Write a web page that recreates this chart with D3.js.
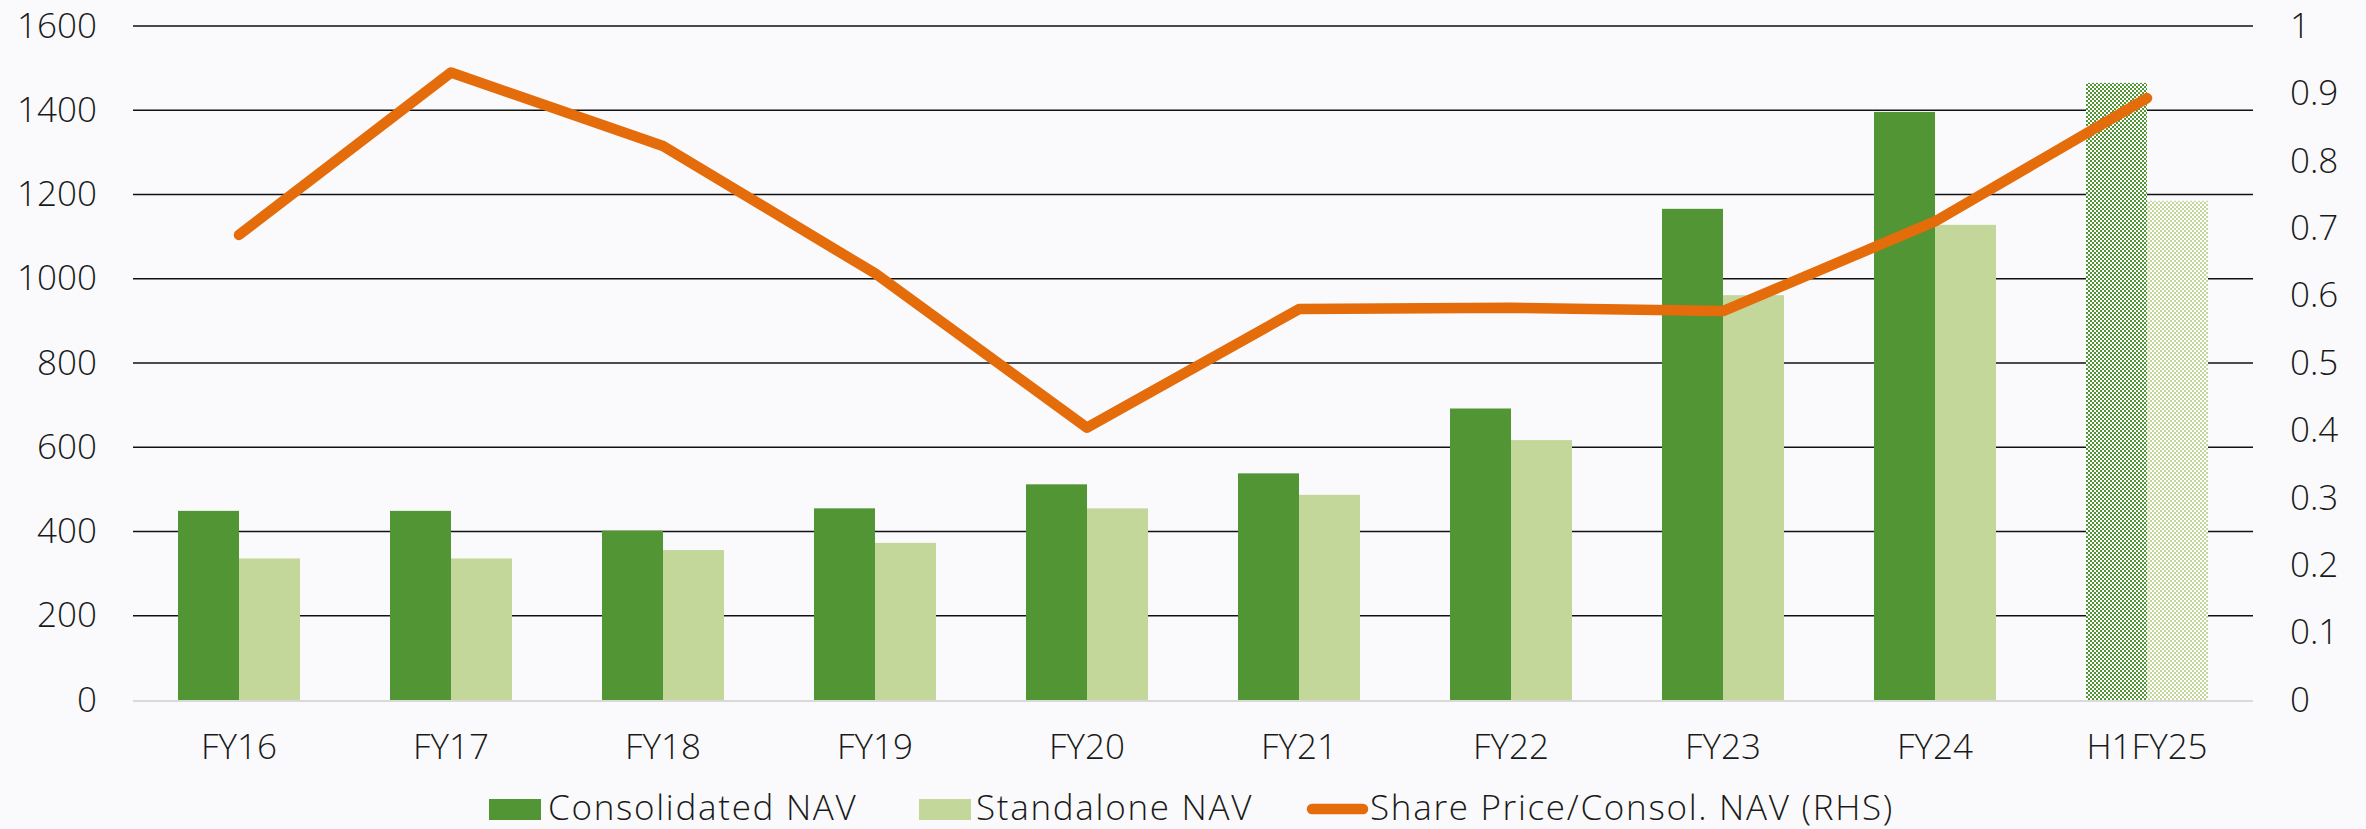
<!DOCTYPE html>
<html>
<head>
<meta charset="utf-8">
<script src="https://cdn.jsdelivr.net/npm/d3@7"></script>
<style>
  html, body { margin: 0; padding: 0; background: #fafafc; }
  svg { display: block; font-family: "Open Sans", Lato, sans-serif; }
  .tick text { fill: #1a1a1a; }
</style>
</head>
<body>
<div id="chart"></div>
<script>
const categories = ["FY16", "FY17", "FY18", "FY19", "FY20", "FY21", "FY22", "FY23", "FY24", "H1FY25"];
const consolidated = [449, 449, 402, 455, 512, 538, 692, 1166, 1396, 1465];
const standalone = [336, 336, 356, 373, 455, 487, 617, 961, 1128, 1185];
const ratio = [0.69, 0.931, 0.822, 0.633, 0.404, 0.58, 0.582, 0.577, 0.71, 0.893];
const leftTicks = [0, 200, 400, 600, 800, 1000, 1200, 1400, 1600];
const rightTicks = [0, 0.1, 0.2, 0.3, 0.4, 0.5, 0.6, 0.7, 0.8, 0.9, 1];
const seriesNames = ["Consolidated NAV", "Standalone NAV", "Share Price/Consol. NAV (RHS)"];

const w = 2366;
const h = 829;
const plotLeft = 133, plotRight = 2253, plotTop = 26, plotBottom = 700;
const darkGreen = "#519534";
const lightGreen = "#c4d79b";
const orange = "#e46c0a";

const svg = d3.select("#chart").append("svg")
  .attr("width", w)
  .attr("height", h);

// checkered fills for the half-year bars
const defs = svg.append("defs");
[["checkDark", darkGreen], ["checkLight", lightGreen]].forEach(([id, col]) => {
  const p = defs.append("pattern")
    .attr("id", id)
    .attr("patternUnits", "userSpaceOnUse")
    .attr("width", 4).attr("height", 4);
  p.append("rect").attr("width", 4).attr("height", 4).attr("fill", "#ffffff");
  p.append("rect").attr("width", 2).attr("height", 2).attr("fill", col);
  p.append("rect").attr("x", 2).attr("y", 2).attr("width", 2).attr("height", 2).attr("fill", col);
});

const pad = 0.4245;
const x = d3.scaleBand()
  .domain(categories)
  .range([plotLeft, plotRight])
  .paddingInner(pad)
  .paddingOuter(pad / 2);
const xs = d3.scaleBand()
  .domain([0, 1])
  .range([0, x.bandwidth()]);
const y = d3.scaleLinear().domain([0, 1600]).range([plotBottom, plotTop]);
const y2 = d3.scaleLinear().domain([0, 1]).range([plotBottom, plotTop]);

// gridlines
svg.append("g")
  .selectAll("line")
  .data(leftTicks.filter(d => d > 0))
  .enter()
  .append("line")
  .attr("x1", plotLeft).attr("x2", plotRight)
  .attr("y1", d => y(d)).attr("y2", d => y(d))
  .attr("stroke", "#111")
  .attr("stroke-width", 1.4);

// bars
const groups = categories.map((c, i) => ({ c: c, vals: [consolidated[i], standalone[i]], last: i === categories.length - 1 }));
svg.append("g")
  .selectAll("g")
  .data(groups)
  .enter()
  .append("g")
  .attr("transform", d => "translate(" + x(d.c) + ",0)")
  .selectAll("rect")
  .data(d => d.vals.map((v, j) => ({ v: v, j: j, last: d.last })))
  .enter()
  .append("rect")
  .attr("x", d => xs(d.j))
  .attr("y", d => y(d.v))
  .attr("width", xs.bandwidth())
  .attr("height", d => y(0) - y(d.v))
  .attr("fill", d => d.last ? (d.j === 0 ? "url(#checkDark)" : "url(#checkLight)") : (d.j === 0 ? darkGreen : lightGreen));

// baseline
svg.append("line")
  .attr("x1", plotLeft).attr("x2", plotRight)
  .attr("y1", plotBottom + 1).attr("y2", plotBottom + 1)
  .attr("stroke", "#d9d9d9")
  .attr("stroke-width", 2);

// ratio line
const line = d3.line()
  .x((d, i) => x(categories[i]) + x.bandwidth() / 2)
  .y(d => y2(d));
svg.append("path")
  .datum(ratio)
  .attr("d", line)
  .attr("fill", "none")
  .attr("stroke", orange)
  .attr("stroke-width", 10.5)
  .attr("stroke-linejoin", "round")
  .attr("stroke-linecap", "round");

// axes
const axisFont = g => g.selectAll("text").attr("font-size", 35).attr("font-family", "'Open Sans'").attr("font-weight", 300);

const yaxis = d3.axisLeft(y).tickValues(leftTicks).tickSize(0).tickPadding(36).tickFormat(d3.format("d"));
const gy = svg.append("g")
  .attr("transform", "translate(" + plotLeft + ",0)")
  .call(yaxis);
gy.select(".domain").remove();
gy.call(axisFont);

const y2axis = d3.axisRight(y2).tickValues(rightTicks).tickSize(0).tickPadding(37).tickFormat(d => d3.format("")(+d.toFixed(1)));
const gy2 = svg.append("g")
  .attr("transform", "translate(" + plotRight + ",0)")
  .call(y2axis);
gy2.select(".domain").remove();
gy2.call(axisFont);

const xaxis = d3.axisBottom(x).tickSize(0).tickPadding(34);
const gx = svg.append("g")
  .attr("transform", "translate(0," + plotBottom + ")")
  .call(xaxis);
gx.select(".domain").remove();
gx.call(axisFont);

// legend
const legend = svg.append("g")
  .attr("font-size", 35)
  .attr("font-family", "'Open Sans'")
  .attr("font-weight", 300)
  .attr("letter-spacing", 1.7)
  .attr("fill", "#1a1a1a");
const legX = [489, 919, 1307];
legend.append("rect").attr("x", legX[0]).attr("y", 799).attr("width", 52).attr("height", 21).attr("fill", darkGreen);
legend.append("rect").attr("x", legX[1]).attr("y", 799).attr("width", 52).attr("height", 21).attr("fill", lightGreen);
legend.append("line")
  .attr("x1", legX[2] + 5).attr("x2", legX[2] + 56)
  .attr("y1", 809).attr("y2", 809)
  .attr("stroke", orange).attr("stroke-width", 10.5).attr("stroke-linecap", "round");
legend.selectAll("text")
  .data(seriesNames)
  .enter()
  .append("text")
  .attr("x", (d, i) => [548, 976, 1370][i])
  .attr("y", 820)
  .text(d => d);
</script>
</body>
</html>
